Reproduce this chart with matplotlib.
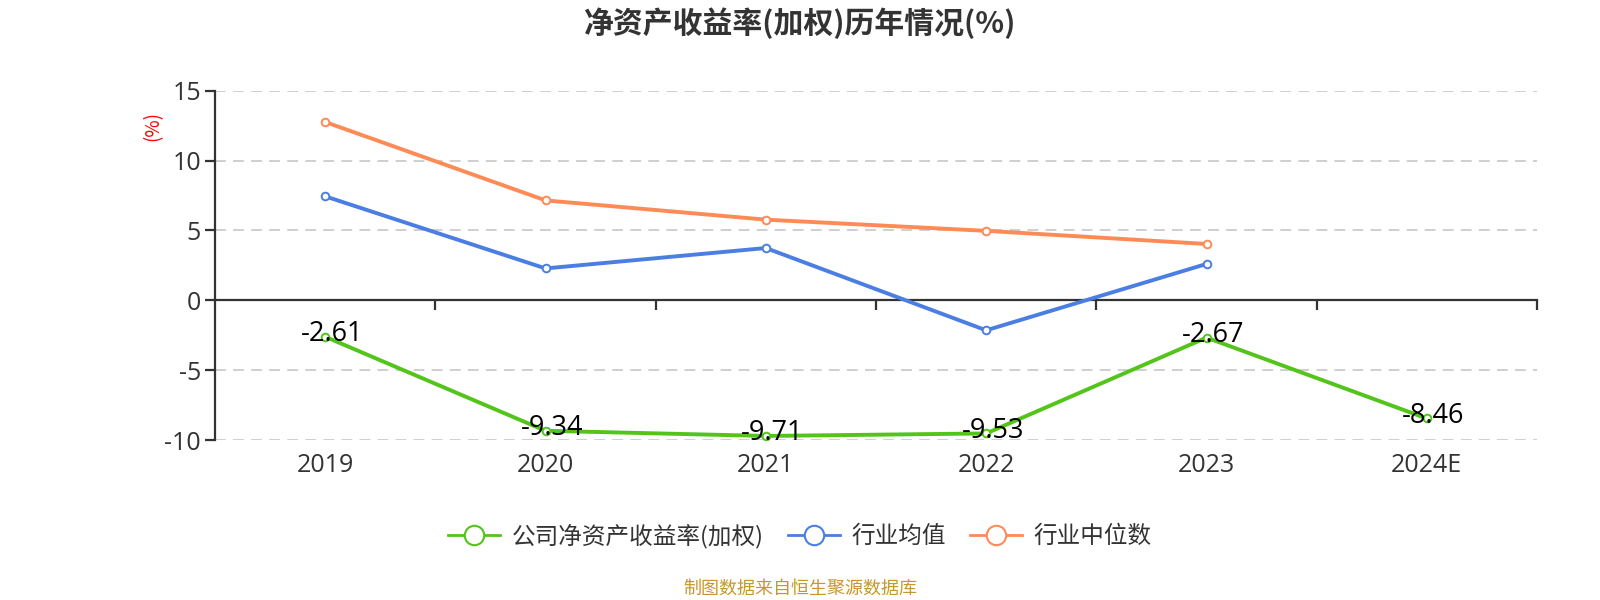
import matplotlib
matplotlib.use('Agg')
import matplotlib.pyplot as plt
from matplotlib.lines import Line2D
import matplotlib.transforms as mtrans

plt.rcParams['font.family'] = ['Noto Sans CJK SC', 'DejaVu Sans']

years = ['2019', '2020', '2021', '2022', '2023', '2024E']
company = [-2.61, -9.34, -9.71, -9.53, -2.67, -8.46]
ind_mean = [7.44, 2.28, 3.74, -2.15, 2.6]
ind_median = [12.76, 7.15, 5.77, 4.97, 4.03]
yticks = [-10, -5, 0, 5, 10, 15]

green = '#52c41a'
blue = '#4a7ee3'
orange = '#fe8a56'
axis_c = '#333333'
num_font = ['Open Sans', 'DejaVu Sans']

fig = plt.figure(figsize=(16, 6), dpi=100)
ax = fig.add_axes([215 / 1600, 1 - 440 / 600, 1322 / 1600, 349.3 / 600])

x_all = list(range(len(years)))
series = [
    (ind_median, orange, '行业中位数'),
    (ind_mean, blue, '行业均值'),
    (company, green, '公司净资产收益率(加权)'),
]
for vals, col, lab in series:
    ax.plot(x_all[:len(vals)], vals, color=col, lw=2.8, marker='o', ms=5.5,
            mfc='white', mec=col, mew=1.4, zorder=3, label=lab)

for xi, v in zip(x_all, company):
    ax.text(xi + 0.03, v + 0.2, f'{v:.2f}', ha='center', va='center', fontsize=19.5,
            color='black', zorder=4, family=num_font)

ax.set_xlim(-0.5, len(years) - 0.5)
ax.set_ylim(-10, 15)
ax.set_yticks(yticks)
ax.set_yticklabels([str(t) for t in yticks], fontsize=18, color=axis_c,
                   family=num_font)
for t in yticks:
    if t != 0:
        ax.axhline(t, color='#cccccc', lw=1.3, ls=(0, (6, 4)), zorder=1)

for s in ['top', 'right']:
    ax.spines[s].set_visible(False)
ax.spines['bottom'].set_position(('data', 0))
ax.spines['bottom'].set_color(axis_c)
ax.spines['bottom'].set_linewidth(1.6)
ax.spines['left'].set_color(axis_c)
ax.spines['left'].set_linewidth(1.6)
ax.tick_params(axis='y', length=7, width=1.6, color=axis_c, pad=3)

bounds = [i + 0.5 for i in range(len(years))]
ax.set_xticks(bounds)
ax.set_xticklabels([])
ax.tick_params(axis='x', direction='out', length=7, width=1.6, color=axis_c)

trans = mtrans.blended_transform_factory(ax.transData, ax.transAxes)
for xi, lab in zip(x_all, years):
    ax.text(xi, -0.072, lab, transform=trans, ha='center', va='center',
            fontsize=18, color=axis_c, family=num_font)

ax.text(-0.047, 0.90, '(%)', transform=ax.transAxes, rotation=90,
        ha='center', va='center', fontsize=13.5, color='red')

fig.text(0.5, 1 - 23 / 600, '净资产收益率(加权)历年情况(%)', ha='center',
         va='center', fontsize=21.5, fontweight='bold', color=axis_c)

handles = [Line2D([0], [0], color=c, lw=2, marker='o', ms=14, mfc='white',
                  mec=c, mew=1.5) for _, c, _ in series[::-1]]
labels = [l for _, _, l in series[::-1]]
fig.legend(handles, labels, loc='center', bbox_to_anchor=(0.5, 1 - 536 / 600),
           ncol=3, frameon=False, fontsize=17, handlelength=2.2,
           columnspacing=1.0, handletextpad=0.5, labelcolor=axis_c)

fig.text(0.5, 1 - 589 / 600, '制图数据来自恒生聚源数据库', ha='center',
         va='center', fontsize=13, color='#c8962c')

fig.savefig('out.png', dpi=100)
